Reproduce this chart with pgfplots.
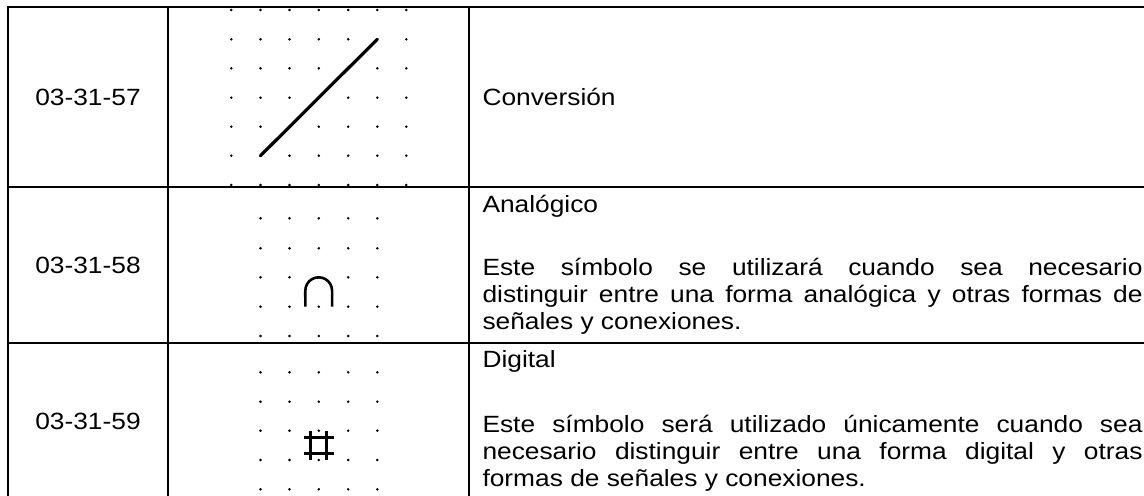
\documentclass[border=0pt]{standalone}
\usepackage{pgfplots}
\pgfplotsset{compat=1.18}
\usepackage{fontspec}
\setmainfont{Liberation Sans}[FakeStretch=1.12]
\begin{document}
\begin{tikzpicture}[font=\fontsize{23.5bp}{26.7bp}\selectfont]
\begin{axis}[
  at={(0,0)}, anchor=south west,
  width=1144bp, height=496bp, scale only axis,
  xmin=0, xmax=1144, ymin=0, ymax=496,
  y dir=reverse, hide axis, clip=false,
  every node/.append style={inner sep=0pt, outer sep=0pt},
]
% table rules
\addplot[black, line width=2bp] coordinates {(8,6.3) (8,505)};
\addplot[black, line width=2bp] coordinates {(168,6.3) (168,505)};
\addplot[black, line width=2bp] coordinates {(469.3,6.3) (469.3,505)};
\addplot[black, line width=2bp] coordinates {(7,7.3) (1150,7.3)};
\addplot[black, line width=2bp] coordinates {(7,187.3) (1150,187.3)};
\addplot[black, line width=2bp] coordinates {(7,342.7) (1150,342.7)};
% dot grid, row 1
\addplot[only marks, mark=*, mark size=1.05bp, black] coordinates {
(231.3,10) (260.5,10) (289.5,10) (318.8,10) (348.2,10) (377.3,10) (406.3,10)
(231.3,39.3) (260.5,39.3) (289.5,39.3) (318.8,39.3) (348.2,39.3) (377.3,39.3) (406.3,39.3)
(231.3,68.3) (260.5,68.3) (289.5,68.3) (318.8,68.3) (348.2,68.3) (377.3,68.3) (406.3,68.3)
(231.3,97.7) (260.5,97.7) (289.5,97.7) (318.8,97.7) (348.2,97.7) (377.3,97.7) (406.3,97.7)
(231.3,126.7) (260.5,126.7) (289.5,126.7) (318.8,126.7) (348.2,126.7) (377.3,126.7) (406.3,126.7)
(231.3,155.7) (260.5,155.7) (289.5,155.7) (318.8,155.7) (348.2,155.7) (377.3,155.7) (406.3,155.7)
(231.3,185) (260.5,185) (289.5,185) (318.8,185) (348.2,185) (377.3,185) (406.3,185)
};
% dot grid, row 2
\addplot[only marks, mark=*, mark size=1.05bp, black] coordinates {
(260.5,218.3) (289.5,218.3) (318.8,218.3) (348.2,218.3) (377.3,218.3)
(260.5,248.3) (289.5,248.3) (318.8,248.3) (348.2,248.3) (377.3,248.3)
(260.5,277.3) (289.5,277.3) (318.8,277.3) (348.2,277.3) (377.3,277.3)
(260.5,306.7) (289.5,306.7) (318.8,306.7) (348.2,306.7) (377.3,306.7)
(260.5,336) (289.5,336) (318.8,336) (348.2,336) (377.3,336)
};
% dot grid, row 3
\addplot[only marks, mark=*, mark size=1.05bp, black] coordinates {
(260.5,372.3) (289.5,372.3) (318.8,372.3) (348.2,372.3) (377.3,372.3)
(260.5,401.7) (289.5,401.7) (318.8,401.7) (348.2,401.7) (377.3,401.7)
(260.5,430.7) (289.5,430.7) (318.8,430.7) (348.2,430.7) (377.3,430.7)
(260.5,460) (289.5,460) (318.8,460) (348.2,460) (377.3,460)
(260.5,489.3) (289.5,489.3) (318.8,489.3) (348.2,489.3) (377.3,489.3)
};
% conversion symbol
\addplot[black, line width=3.2bp, line cap=round] coordinates {(260.5,155.7) (377.3,39.3)};
% analog symbol
\addplot[black, line width=2.6bp, smooth] coordinates {
(305.3,306.7) (305.3,298) (305.3,290.7) (305.8,287.2) (307.1,284.0) (309.2,281.2)
(312.0,279.1) (315.2,277.8) (318.7,277.3) (322.2,277.8) (325.4,279.1)
(328.2,281.2) (330.3,284.0) (331.6,287.2) (332.1,290.7) (332.1,298) (332.1,306.7)
};
% digital symbol
\addplot[black, line width=3bp] coordinates {(310.7,430.7) (310.7,460)};
\addplot[black, line width=3bp] coordinates {(326.7,430.7) (326.7,460)};
\addplot[black, line width=3bp] coordinates {(304,437.3) (334,437.3)};
\addplot[black, line width=3bp] coordinates {(304,453.3) (334,453.3)};
% texts
\node[anchor=base] at (axis cs:88,105) {03-31-57};
\node[anchor=base] at (axis cs:88,273) {03-31-58};
\node[anchor=base] at (axis cs:88,429.3) {03-31-59};
\node[anchor=base west] at (axis cs:479,105) {Conversión};
\node[anchor=base west] at (axis cs:479,212.3) {Analógico};
\node[anchor=base west] at (axis cs:479,275.7) {\makebox[660bp][s]{Este símbolo se utilizará cuando sea necesario}};
\node[anchor=base west] at (axis cs:479,302.4) {\makebox[660bp][s]{distinguir entre una forma analógica y otras formas de}};
\node[anchor=base west] at (axis cs:479,329.1) {señales y conexiones.};
\node[anchor=base west] at (axis cs:479,367.7) {Digital};
\node[anchor=base west] at (axis cs:479,432) {\makebox[660bp][s]{Este símbolo será utilizado únicamente cuando sea}};
\node[anchor=base west] at (axis cs:479,459) {\makebox[660bp][s]{necesario distinguir entre una forma digital y otras}};
\node[anchor=base west] at (axis cs:479,486) {formas de señales y conexiones.};
\end{axis}
\pgfresetboundingbox
\path (0,0) rectangle (1144bp,496bp);
\end{tikzpicture}
\end{document}
